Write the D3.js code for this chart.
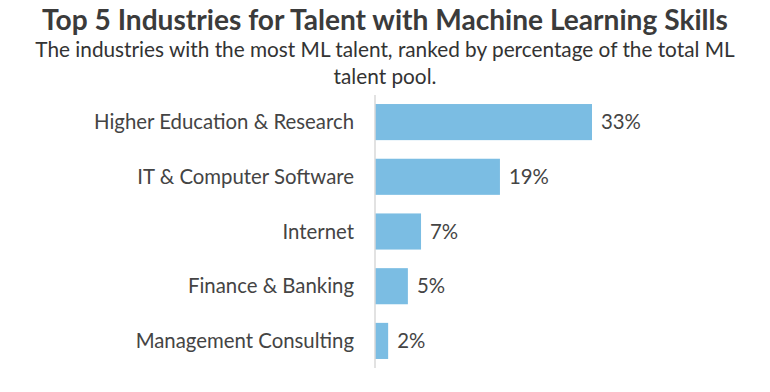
<!DOCTYPE html>
<html>
<head>
<meta charset="utf-8">
<script src="https://cdn.jsdelivr.net/npm/d3@7"></script>
<style>
  body { margin: 0; background: #fff; }
  text { font-family: "Source Sans Pro", Lato, sans-serif; }
</style>
</head>
<body>
<div id="chart"></div>
<script>
const industries = ["Higher Education & Research", "IT & Computer Software", "Internet", "Finance & Banking", "Management Consulting"];
const shares = [33, 19, 7, 5, 2];
const titleText = "Top 5 Industries for Talent with Machine Learning Skills";
const subtitleLines = ["The industries with the most ML talent, ranked by percentage of the total ML", "talent pool."];

const width = 770, height = 392;

const svg = d3.select("#chart").append("svg")
    .attr("width", width)
    .attr("height", height);

// shrink/grow a text node until it reaches the wanted width
function fitWidth(sel, target) {
    const w = sel.node().getComputedTextLength();
    const fs = parseFloat(sel.attr("font-size"));
    sel.attr("font-size", fs * target / w);
    return fs * target / w;
}

const title = svg.append("text")
    .attr("x", width / 2 + 0)
    .attr("y", 30)
    .attr("text-anchor", "middle")
    .attr("font-weight", "bold")
    .attr("font-size", 27)
    .attr("fill", "#3b3b3b")
    .text(titleText);
fitWidth(title, 686);

const sub1 = svg.append("text")
    .attr("x", width / 2)
    .attr("y", 57)
    .attr("text-anchor", "middle")
    .attr("font-size", 20)
    .attr("fill", "#333")
    .text(subtitleLines[0]);
const subSize = fitWidth(sub1, 700);

svg.append("text")
    .attr("x", width / 2)
    .attr("y", 84)
    .attr("text-anchor", "middle")
    .attr("font-size", subSize)
    .attr("fill", "#333")
    .text(subtitleLines[1]);

const x = d3.scaleLinear().domain([0, 33]).range([375, 592]);
const y = d3.scaleBand().domain(industries).range([95, 368])
    .paddingInner(0.34).paddingOuter(0.165);

svg.selectAll("rect.bar")
    .data(industries)
    .enter()
    .append("rect")
    .attr("class", "bar")
    .attr("x", x(0))
    .attr("y", d => y(d))
    .attr("width", (d, i) => x(shares[i]) - x(0))
    .attr("height", y.bandwidth())
    .attr("fill", "#7bbde3");

svg.append("line")
    .attr("x1", x(0)).attr("x2", x(0))
    .attr("y1", 95).attr("y2", 368)
    .attr("stroke", "#d9d9d9")
    .attr("stroke-width", 1.5);

const labels = svg.selectAll("text.cat")
    .data(industries)
    .enter()
    .append("text")
    .attr("class", "cat")
    .attr("x", 354)
    .attr("y", d => y(d) + y.bandwidth() / 2)
    .attr("dy", "0.35em")
    .attr("text-anchor", "end")
    .attr("font-size", 20)
    .attr("fill", "#444")
    .text(d => d);

const labelSize = fitWidth(d3.select(labels.nodes()[0]), 260);
labels.attr("font-size", labelSize);

svg.selectAll("text.val")
    .data(industries)
    .enter()
    .append("text")
    .attr("class", "val")
    .attr("x", (d, i) => x(shares[i]) + 9)
    .attr("y", d => y(d) + y.bandwidth() / 2)
    .attr("dy", "0.35em")
    .attr("font-size", labelSize)
    .attr("fill", "#444")
    .text((d, i) => shares[i] + "%");
</script>
</body>
</html>
